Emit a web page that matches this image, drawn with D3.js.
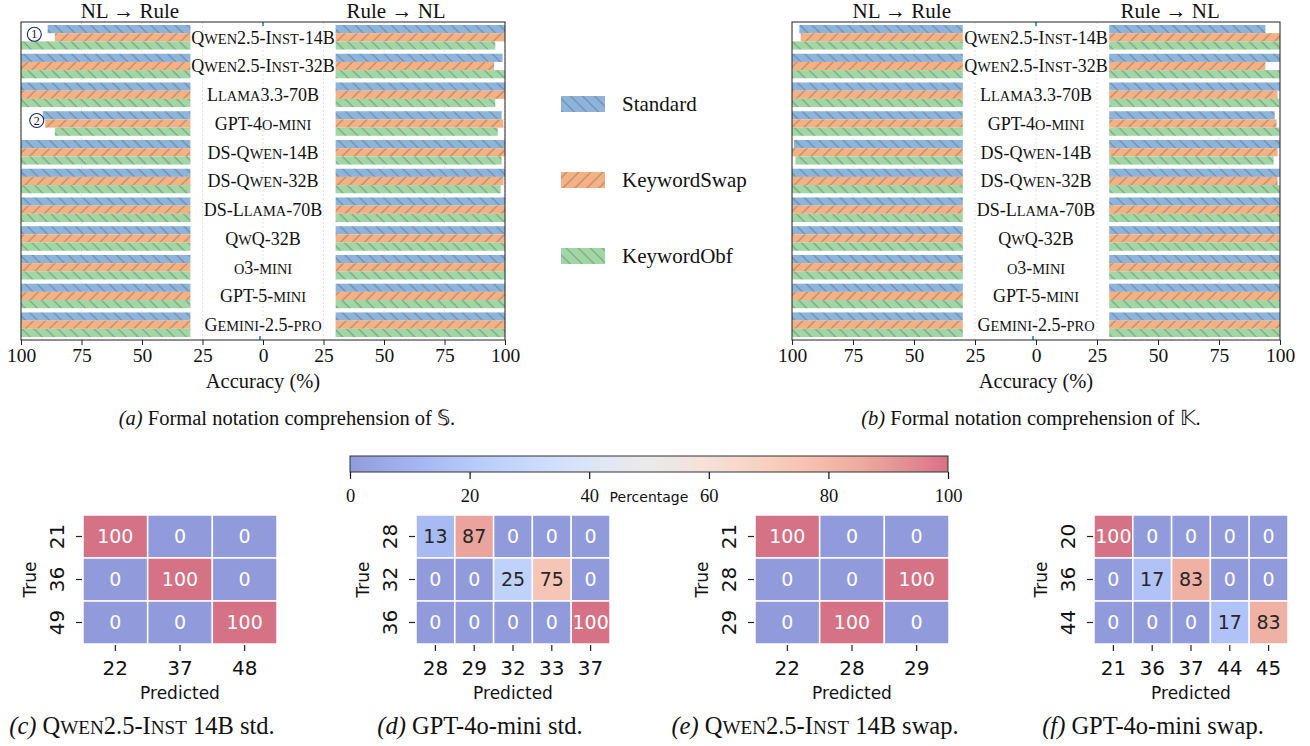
<!DOCTYPE html>
<html>
<head>
<meta charset="utf-8">
<script src="https://cdn.jsdelivr.net/npm/d3@7"></script>
<style>
  body { margin: 0; background: #fff; }
  text { font-family: "Liberation Serif", "Times New Roman", serif; fill: #111; }
  .sans { font-family: "DejaVu Sans", sans-serif; }
</style>
</head>
<body>
<script>
// ---- data ----
const models = ["Qwen2.5-Inst-14B", "Qwen2.5-Inst-32B", "Llama3.3-70B", "GPT-4o-mini", "DS-Qwen-14B",
  "DS-Qwen-32B", "DS-Llama-70B", "QwQ-32B", "o3-mini", "GPT-5-mini", "Gemini-2.5-pro"];
const seriesNames = ["Standard", "KeywordSwap", "KeywordObf"];
const seriesColors = ["#8db4da", "#f4b183", "#a1d6a5"];
const seriesHatch = ["back", "fwd", "back"];

// (a) formal notation S
const aNlStd  = [89, 100, 100, 91, 100, 100, 100, 100, 100, 100, 100];
const aNlSwap = [86, 100, 100, 90, 100, 100, 100, 100, 100, 100, 100];
const aNlObf  = [100, 100, 100, 86, 100, 100, 100, 100, 100, 100, 100];
const aRnStd  = [100, 99, 100, 98.6, 100, 100, 100, 100, 100, 100, 100];
const aRnSwap = [100, 95.5, 100, 99.3, 100, 99.4, 100, 100, 100, 100, 100];
const aRnObf  = [96, 100, 96, 97, 98.6, 98.2, 100, 100, 100, 100, 100];

// (b) formal notation K
const bNlStd  = [97, 100, 100, 100, 99.2, 100, 100, 100, 100, 100, 100];
const bNlSwap = [96.4, 100, 100, 100, 100, 100, 100, 100, 100, 100, 100];
const bNlObf  = [100, 100, 100, 100, 98.6, 100, 100, 100, 100, 100, 100];
const bRnStd  = [94, 100, 100, 97.8, 100, 100, 100, 100, 100, 100, 100];
const bRnSwap = [100, 94, 99, 98.6, 99, 99, 100, 100, 100, 100, 100];
const bRnObf  = [100, 100, 99.7, 99.8, 97.4, 100, 100, 100, 100, 100, 100];

const xTicks = [-100, -75, -50, -25, 0, 25, 50, 75, 100];
const barStart = 30;

// confusion matrices
const cRows = ["21", "36", "49"], cCols = ["22", "37", "48"];
const cVals = [[100, 0, 0], [0, 100, 0], [0, 0, 100]];
const dRows = ["28", "32", "36"], dCols = ["28", "29", "32", "33", "37"];
const dVals = [[13, 87, 0, 0, 0], [0, 0, 25, 75, 0], [0, 0, 0, 0, 100]];
const eRows = ["21", "28", "29"], eCols = ["22", "28", "29"];
const eVals = [[100, 0, 0], [0, 0, 100], [0, 100, 0]];
const fRows = ["20", "36", "44"], fCols = ["21", "36", "37", "44", "45"];
const fVals = [[100, 0, 0, 0, 0], [0, 17, 83, 0, 0], [0, 0, 0, 17, 83]];
const cbarTicks = [0, 20, 40, 60, 80, 100];

// ---- setup ----
const W = 1310, H = 746;
const SERIF = "'Liberation Serif', 'Times New Roman', serif";
const svg = d3.select("body").append("svg").attr("width", W).attr("height", H);
const defs = svg.append("defs");

function hatch(id, color, dir) {
  const p = defs.append("pattern").attr("id", id)
    .attr("patternUnits", "userSpaceOnUse").attr("width", 8.5).attr("height", 8.5)
    .attr("patternTransform", dir === "back" ? "rotate(-45)" : "rotate(45)");
  p.append("rect").attr("width", 8.5).attr("height", 8.5).attr("fill", color);
  p.append("line").attr("x1", 4).attr("x2", 4).attr("y1", 0).attr("y2", 8.5)
    .attr("stroke", "rgba(70,70,70,0.45)").attr("stroke-width", 1);
}
seriesColors.forEach((c, k) => hatch("h" + k, c, seriesHatch[k]));

// fake small caps: lower-case runs become smaller capitals
function smallCaps(t, str, ratio) {
  const runs = str.match(/[a-z]+|[^a-z]+/g) || [];
  runs.forEach(r => {
    if (/[a-z]/.test(r)) t.append("tspan").style("font-size", ratio + "em").text(r.toUpperCase());
    else t.append("tspan").text(r);
  });
}

// coolwarm, blended on white
const cw = d3.interpolateRgbBasis(["rgb(59,76,192)", "rgb(98,130,234)", "rgb(141,176,254)", "rgb(184,208,249)",
  "rgb(221,221,221)", "rgb(245,196,173)", "rgb(244,154,123)", "rgb(222,96,77)", "rgb(180,4,38)"]);
const alpha = 0.56;
function cellColor(v) {
  const c = d3.rgb(cw(v / 100));
  return d3.rgb(255 - alpha * (255 - c.r), 255 - alpha * (255 - c.g), 255 - alpha * (255 - c.b));
}
function textColor(c) {
  const lin = u => { u /= 255; return u <= 0.03928 ? u / 12.92 : Math.pow((u + 0.055) / 1.055, 2.4); };
  const L = 0.2126 * lin(c.r) + 0.7152 * lin(c.g) + 0.0722 * lin(c.b);
  return L > 0.408 ? "#262626" : "#ffffff";
}

// ---- butterfly bar charts ----
function drawButterfly(left, right, nl, rn, marks, caption) {
  const x = d3.scaleLinear().domain([-100, 100]).range([left, right]);
  const y = d3.scaleLinear().domain([-0.532, 10.532]).range([22, 340]);
  const bh = 0.285;
  const g = svg.append("g");

  // grid
  g.selectAll(".grid").data(xTicks).enter().append("line")
    .attr("x1", d => x(d)).attr("x2", d => x(d)).attr("y1", 22).attr("y2", 340)
    .attr("stroke", "#dcdcdc").attr("stroke-width", 0.8).attr("stroke-dasharray", "2,2");

  models.forEach((m, i) => {
    [0, 1, 2].forEach(k => {
      const top = y(i - 1.5 * bh + k * bh), hh = y(bh) - y(0);
      g.append("rect").attr("x", x(-nl[k][i])).attr("width", x(-barStart) - x(-nl[k][i]))
        .attr("y", top).attr("height", hh).attr("fill", `url(#h${k})`);
      g.append("rect").attr("x", x(barStart)).attr("width", x(rn[k][i]) - x(barStart))
        .attr("y", top).attr("height", hh).attr("fill", `url(#h${k})`);
    });
    const t = g.append("text").attr("x", x(0)).attr("y", y(i)).attr("dy", "0.35em")
      .attr("text-anchor", "middle").style("font-size", "18px");
    smallCaps(t, m, 0.8);
  });

  // zero marker
  g.append("line").attr("x1", x(0)).attr("x2", x(0)).attr("y1", 22).attr("y2", 26)
    .attr("stroke", "#1f77b4").attr("stroke-width", 1.5);
  g.append("line").attr("x1", x(0) - 3).attr("x2", x(0) - 3).attr("y1", 336).attr("y2", 340)
    .attr("stroke", "#1f77b4").attr("stroke-width", 1.5);

  // frame
  g.append("rect").attr("x", left).attr("y", 22).attr("width", right - left).attr("height", 318)
    .attr("fill", "none").attr("stroke", "#222").attr("stroke-width", 1);

  const ax = g.append("g").attr("transform", "translate(0,340)")
    .call(d3.axisBottom(x).tickValues(xTicks).tickFormat(d => Math.abs(d)).tickSize(5).tickPadding(3));
  ax.attr("font-family", null);
  ax.select(".domain").remove();
  ax.selectAll("text").style("font-family", SERIF).style("font-size", "19.5px").attr("fill", "#111");
  ax.selectAll("line").attr("stroke", "#222");

  g.append("text").attr("x", x(-55)).attr("y", 18).attr("text-anchor", "middle").style("font-size", "21px").text("NL → Rule");
  g.append("text").attr("x", x(55)).attr("y", 18).attr("text-anchor", "middle").style("font-size", "21px").text("Rule → NL");
  g.append("text").attr("x", x(0)).attr("y", 388).attr("text-anchor", "middle").style("font-size", "20.5px").text("Accuracy (%)");

  marks.forEach(mk => {
    const cx = x(mk.v), cy = y(mk.row) - 3;
    g.append("circle").attr("cx", cx).attr("cy", cy).attr("r", 7).attr("fill", "#fff")
      .attr("stroke", "#1a2a6c").attr("stroke-width", 1.1);
    g.append("text").attr("x", cx).attr("y", cy).attr("dy", "0.35em").attr("text-anchor", "middle")
      .style("font-size", "12px").text(mk.label);
  });

  const t = svg.append("text").attr("x", caption.x).attr("y", 425).attr("text-anchor", "middle").style("font-size", "20.5px");
  t.append("tspan").style("font-style", "italic").text(caption.tag);
  t.append("tspan").text(caption.text);
}

drawButterfly(21, 505, [aNlStd, aNlSwap, aNlObf], [aRnStd, aRnSwap, aRnObf],
  [{ v: -94.5, row: 0, label: "1" }, { v: -93.5, row: 3, label: "2" }],
  { x: 287, tag: "(a)", text: " Formal notation comprehension of 𝕊." });
drawButterfly(792, 1280, [bNlStd, bNlSwap, bNlObf], [bRnStd, bRnSwap, bRnObf], [],
  { x: 1031, tag: "(b)", text: " Formal notation comprehension of 𝕂." });

// legend
const lg = svg.append("g");
seriesNames.forEach((s, k) => {
  const yy = 96 + k * 76;
  lg.append("rect").attr("x", 561).attr("y", yy).attr("width", 44).attr("height", 16).attr("fill", `url(#h${k})`);
  lg.append("text").attr("x", 622).attr("y", yy + 8).attr("dy", "0.35em").style("font-size", "21px").text(s);
});

// ---- colorbar ----
const cb = d3.scaleLinear().domain([0, 100]).range([350, 948]);
const grad = defs.append("linearGradient").attr("id", "cbar");
d3.range(0, 1.0001, 0.05).forEach(t => grad.append("stop").attr("offset", t).attr("stop-color", cellColor(t * 100)));
svg.append("rect").attr("x", 350).attr("y", 456).attr("width", 598).attr("height", 16)
  .attr("fill", "url(#cbar)").attr("stroke", "#333").attr("stroke-width", 1);
const cbAx = svg.append("g").attr("transform", "translate(0,472)")
  .call(d3.axisBottom(cb).tickValues(cbarTicks).tickSize(7).tickPadding(10));
cbAx.attr("font-family", null);
cbAx.select(".domain").remove();
cbAx.selectAll("text").style("font-family", SERIF).style("font-size", "18.5px").attr("fill", "#111");
cbAx.selectAll("line").attr("stroke", "#111").attr("stroke-width", 1.2);
svg.append("text").attr("class", "sans").attr("x", 649).attr("y", 502).attr("text-anchor", "middle")
  .style("font-size", "14px").text("Percentage");

// ---- heatmaps ----
function drawHeat(x0, rows, cols, vals, cap) {
  const x = d3.scaleBand().domain(cols).range([x0, x0 + 194]);
  const y = d3.scaleBand().domain(rows).range([515, 644]);
  const g = svg.append("g");
  rows.forEach((r, i) => cols.forEach((c, j) => {
    const col = cellColor(vals[i][j]);
    g.append("rect").attr("x", x(c)).attr("y", y(r)).attr("width", x.bandwidth()).attr("height", y.bandwidth())
      .attr("fill", col).attr("stroke", "#fff").attr("stroke-width", 1.5);
    g.append("text").attr("class", "sans").attr("x", x(c) + x.bandwidth() / 2).attr("y", y(r) + y.bandwidth() / 2)
      .attr("dy", "0.36em").attr("text-anchor", "middle").style("font-size", "19px")
      .style("fill", textColor(col)).text(vals[i][j]);
  }));
  cols.forEach(c => {
    const cx = x(c) + x.bandwidth() / 2;
    g.append("line").attr("x1", cx).attr("x2", cx).attr("y1", 645).attr("y2", 651).attr("stroke", "#222").attr("stroke-width", 1.2);
    g.append("text").attr("class", "sans").attr("x", cx).attr("y", 675).attr("text-anchor", "middle").style("font-size", "20px").text(c);
  });
  rows.forEach(r => {
    const cy = y(r) + y.bandwidth() / 2;
    g.append("line").attr("x1", x0 - 7).attr("x2", x0 - 1).attr("y1", cy).attr("y2", cy).attr("stroke", "#222").attr("stroke-width", 1.2);
    g.append("text").attr("class", "sans").attr("transform", `translate(${x0 - 19},${cy}) rotate(-90)`)
      .attr("text-anchor", "middle").style("font-size", "20px").text(r);
  });
  g.append("text").attr("class", "sans").attr("transform", `translate(${x0 - 47},579.5) rotate(-90)`)
    .attr("text-anchor", "middle").style("font-size", "17px").text("True");
  g.append("text").attr("class", "sans").attr("x", x0 + 97).attr("y", 699).attr("text-anchor", "middle")
    .style("font-size", "17px").text("Predicted");

  const t = svg.append("text").attr("x", cap.x).attr("y", 734).attr("text-anchor", "middle").style("font-size", "24.5px");
  t.append("tspan").style("font-style", "italic").text(cap.tag + " ");
  if (cap.sc) { const s = t.append("tspan"); smallCaps(s, cap.sc, 0.78); }
  t.append("tspan").text(cap.text);
}

drawHeat(83, cRows, cCols, cVals, { x: 142, tag: "(c)", sc: "Qwen2.5-Inst", text: " 14B std." });
drawHeat(416, dRows, dCols, dVals, { x: 480, tag: "(d)", sc: "", text: "GPT-4o-mini std." });
drawHeat(755, eRows, eCols, eVals, { x: 815, tag: "(e)", sc: "Qwen2.5-Inst", text: " 14B swap." });
drawHeat(1094, fRows, fCols, fVals, { x: 1153, tag: "(f)", sc: "", text: "GPT-4o-mini swap." });
</script>
</body>
</html>
